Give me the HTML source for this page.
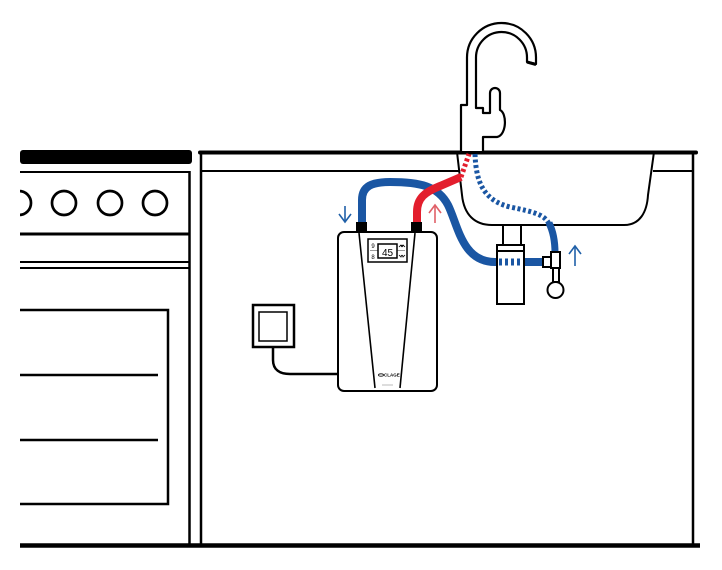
<!DOCTYPE html>
<html><head><meta charset="utf-8"><style>
html,body{margin:0;padding:0;background:#fff;}
svg{display:block;}
</style></head><body>
<svg width="722" height="570" viewBox="0 0 722 570" xmlns="http://www.w3.org/2000/svg">
<rect width="722" height="570" fill="#fff"/>
<!-- Oven -->
<rect x="20" y="150" width="172" height="14" rx="3" fill="#000"/>
<line x1="20" y1="172" x2="190" y2="172" stroke="#000" stroke-width="2"/>
<line x1="189.5" y1="171" x2="189.5" y2="545" stroke="#000" stroke-width="2.5"/>
<g fill="none" stroke="#000" stroke-width="2.7">
<circle cx="19" cy="203" r="12"/>
<circle cx="64" cy="203" r="12"/>
<circle cx="110" cy="203" r="12"/>
<circle cx="155" cy="203" r="12"/>
</g>
<line x1="20" y1="234" x2="189" y2="234" stroke="#000" stroke-width="3"/>
<line x1="20" y1="262" x2="189" y2="262" stroke="#000" stroke-width="2"/>
<line x1="20" y1="268" x2="189" y2="268" stroke="#000" stroke-width="2"/>
<path d="M20,310 L168,310 L168,504 L20,504" fill="none" stroke="#000" stroke-width="2.5"/>
<line x1="20" y1="375" x2="158" y2="375" stroke="#000" stroke-width="2.5"/>
<line x1="20" y1="440" x2="158" y2="440" stroke="#000" stroke-width="2.5"/>
<!-- Cabinet -->
<line x1="201" y1="152" x2="201" y2="545" stroke="#000" stroke-width="2.5"/>
<line x1="693" y1="152" x2="693" y2="545" stroke="#000" stroke-width="2.5"/>
<line x1="201" y1="171" x2="459" y2="171" stroke="#000" stroke-width="2"/>
<line x1="653" y1="171" x2="693" y2="171" stroke="#000" stroke-width="2"/>
<line x1="20" y1="545.5" x2="700" y2="545.5" stroke="#000" stroke-width="4.5"/>
<!-- Sink -->
<path d="M457,152 L462,195 C464,215 475,225 492,225 L624,225 C640,225 647,212 648,195 L654,152" fill="#fff" stroke="#000" stroke-width="2"/>
<line x1="200" y1="152.5" x2="696" y2="152.5" stroke="#000" stroke-width="4" stroke-linecap="round"/>
<!-- Faucet -->
<path d="M461,151 L461,105 L467,105 L467,57.5 A34.5,34.5 0 0 1 536,57.5 L536,64 L527,62 L527,57.5 A25.5,25.5 0 0 0 476,57.5 L476,108 L483,108 L483,113 L490,113 L490,93 A5,5 0 0 1 500,93 L500,110 C507,113 507,135 497,137 L483,137 L483,151" fill="#fff" stroke="#000" stroke-width="2.2" stroke-linejoin="round"/>
<line x1="527" y1="62" x2="536" y2="64.5" stroke="#000" stroke-width="3"/>
<!-- Switch box and cable -->
<rect x="253" y="305" width="41" height="42" fill="#fff" stroke="#000" stroke-width="2.5"/>
<rect x="259" y="312" width="28" height="29" fill="#fff" stroke="#000" stroke-width="1.5"/>
<path d="M273,347 L273,360 C273,370 280,374 290,374 L338,374" fill="none" stroke="#000" stroke-width="2.5"/>
<!-- Drain -->
<rect x="503" y="225" width="18" height="20" fill="#fff" stroke="#000" stroke-width="2"/>
<!-- Blue main hose -->
<path d="M362,224 L362,200 C362,186 372,182 390,182 C420,182 438,186 448,205 C458,225 462,262 495,262 L544,262" fill="none" stroke="#1a56a3" stroke-width="8"/>
<rect x="497" y="245" width="27" height="59" fill="#fff" stroke="#000" stroke-width="2"/>
<line x1="497" y1="251" x2="524" y2="251" stroke="#000" stroke-width="2"/>
<line x1="499" y1="262" x2="523" y2="262" stroke="#1a56a3" stroke-width="7" stroke-dasharray="3,3"/>
<!-- Blue dashed hose to faucet -->
<path d="M475,154 C476,180 482,200 510,207 C535,212 545,215 549,224" fill="none" stroke="#1a56a3" stroke-width="5" stroke-dasharray="3,2.5"/>
<path d="M549,223 C553,231 555,240 555,253" fill="none" stroke="#1a56a3" stroke-width="7"/>
<!-- Red hose -->
<path d="M417,224 L417,212 C417,198 425,192 440,186 L461,177" fill="none" stroke="#e31e2d" stroke-width="8"/>
<path d="M461,177 L469,154" fill="none" stroke="#e31e2d" stroke-width="5" stroke-dasharray="3,2.5"/>
<!-- T valve -->
<rect x="543" y="257" width="8" height="10" fill="#fff" stroke="#000" stroke-width="2"/>
<rect x="551" y="252" width="9" height="16" fill="#fff" stroke="#000" stroke-width="2"/>
<rect x="553" y="268" width="6" height="14" fill="#fff" stroke="#000" stroke-width="2"/>
<circle cx="555.5" cy="290" r="8" fill="#fff" stroke="#000" stroke-width="2"/>
<!-- Heater -->
<rect x="356" y="222" width="11" height="11" fill="#000"/>
<rect x="411" y="222" width="11" height="11" fill="#000"/>
<rect x="338" y="232" width="99" height="159" rx="6" fill="#fff" stroke="#000" stroke-width="2"/>
<line x1="359" y1="233" x2="375" y2="388" stroke="#000" stroke-width="1.6"/>
<line x1="415" y1="233" x2="400" y2="388" stroke="#000" stroke-width="1.6"/>
<rect x="368" y="239" width="39" height="23" fill="#fff" stroke="#000" stroke-width="1.5"/>
<line x1="370" y1="250.5" x2="405" y2="250.5" stroke="#999" stroke-width="1"/>
<rect x="378" y="244" width="19" height="14" fill="#fff" stroke="#000" stroke-width="1.5"/>
<text x="387.5" y="256" font-family="Liberation Sans, sans-serif" font-size="10" text-anchor="middle" fill="#000">45</text>
<text x="373" y="248" font-family="Liberation Sans, sans-serif" font-size="6" text-anchor="middle" fill="#000">9</text>
<text x="373" y="259" font-family="Liberation Sans, sans-serif" font-size="6" text-anchor="middle" fill="#000">8</text>
<path d="M399,247 l2,-2 l2,2 M401,247 l2,-2 l2,2" fill="none" stroke="#000" stroke-width="0.8"/>
<path d="M399,255 l2,2 l2,-2 M401,255 l2,2 l2,-2" fill="none" stroke="#000" stroke-width="0.8"/>
<ellipse cx="381" cy="375" rx="2.5" ry="1.2" fill="none" stroke="#000" stroke-width="0.8"/>
<text x="384" y="376.5" font-family="Liberation Sans, sans-serif" font-size="4.5" font-weight="bold" fill="#000">CLAGE</text>
<line x1="382" y1="385" x2="393" y2="385" stroke="#aaa" stroke-width="0.8"/>
<!-- Arrows -->
<g fill="none" stroke="#2060a8" stroke-width="1.6">
<line x1="345" y1="206" x2="345" y2="222"/>
<polyline points="339,214 345,222 351,214"/>
<line x1="575" y1="246" x2="575" y2="266"/>
<polyline points="569,254 575,246 581,254"/>
</g>
<g fill="none" stroke="#e06068" stroke-width="1.6">
<line x1="435" y1="205" x2="435" y2="223"/>
<polyline points="429,213 435,205 441,213"/>
</g>
<rect x="0" y="0" width="20" height="570" fill="#fff"/>
</svg>
</body></html>
